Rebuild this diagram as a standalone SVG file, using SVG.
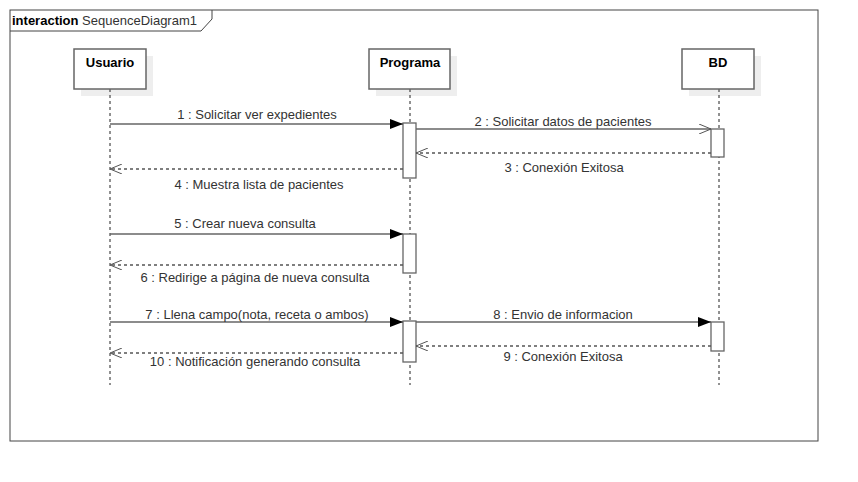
<svg xmlns="http://www.w3.org/2000/svg" width="858" height="482" viewBox="0 0 858 482">
<defs>
<marker id="filled" markerWidth="14" markerHeight="10" refX="13" refY="5" orient="auto" markerUnits="userSpaceOnUse"><path d="M0,0 L13,5 L0,10 Z" fill="#000"/></marker>
<marker id="open" markerWidth="14" markerHeight="10" refX="12" refY="5" orient="auto" markerUnits="userSpaceOnUse"><path d="M0,0 L12,5 L0,10" fill="none" stroke="#555" stroke-width="1"/></marker>
</defs>
<style>
text{font-family:"Liberation Sans",Arial,sans-serif;font-size:13px;fill:#333}
.b{font-weight:bold;fill:#000}
.box{fill:#fff;stroke:#666;stroke-width:1.5}
.sh{fill:#eee}
.life{stroke:#222;stroke-width:1;stroke-dasharray:3,3}
.act{fill:#fff;stroke:#666;stroke-width:1.3}
.msg{stroke:#666;stroke-width:1.5;fill:none}
.ret{stroke:#555;stroke-width:1.4;stroke-dasharray:3,3;fill:none}
</style>
<rect width="858" height="482" fill="#fff"/>
<g id="frame">
<rect x="10" y="10" width="808" height="431" fill="none" stroke="#444" stroke-width="1"/>
<path d="M10,31 L201,31 L212,19 L212,10" fill="none" stroke="#444" stroke-width="1"/>
<text x="12" y="25"><tspan class="b">interaction</tspan> SequenceDiagram1</text>
</g>
<g id="usuario">
<rect class="sh" x="81" y="56" width="72" height="40"/>
<line class="life" x1="110" y1="89" x2="110" y2="385"/>
<rect class="box" x="74" y="49" width="72" height="40"/>
<text class="b" x="110" y="67" text-anchor="middle">Usuario</text>
</g>
<g id="programa">
<rect class="sh" x="376" y="56" width="81" height="40"/>
<line class="life" x1="410" y1="89" x2="410" y2="385"/>
<rect class="box" x="369" y="49" width="81" height="40"/>
<text class="b" x="410" y="67" text-anchor="middle">Programa</text>
</g>
<g id="bd">
<rect class="sh" x="689" y="56" width="72" height="40"/>
<line class="life" x1="719" y1="89" x2="719" y2="385"/>
<rect class="box" x="682" y="49" width="72" height="40"/>
<text class="b" x="718" y="67" text-anchor="middle">BD</text>
</g>
<g id="activations">
<rect class="act" x="403" y="123" width="13" height="55"/>
<rect class="act" x="711" y="129" width="13" height="28"/>
<rect class="act" x="403" y="234" width="13" height="39"/>
<rect class="act" x="403" y="321" width="13" height="41"/>
<rect class="act" x="711" y="322" width="13" height="29"/>
</g>
<g id="connectors">
<line class="msg" x1="110" y1="124" x2="403" y2="124" marker-end="url(#filled)"/>
<line class="msg" x1="416" y1="129" x2="711" y2="129" marker-end="url(#open)"/>
<line class="ret" x1="711" y1="153" x2="416" y2="153" marker-end="url(#open)"/>
<line class="ret" x1="403" y1="169" x2="110" y2="169" marker-end="url(#open)"/>
<line class="msg" x1="110" y1="234" x2="403" y2="234" marker-end="url(#filled)"/>
<line class="ret" x1="403" y1="265" x2="110" y2="265" marker-end="url(#open)"/>
<line class="msg" x1="110" y1="322" x2="403" y2="322" marker-end="url(#filled)"/>
<line class="msg" x1="416" y1="322" x2="711" y2="322" marker-end="url(#filled)"/>
<line class="ret" x1="711" y1="346" x2="416" y2="346" marker-end="url(#open)"/>
<line class="ret" x1="403" y1="353" x2="110" y2="353" marker-end="url(#open)"/>
</g>
<g id="labels">
<text x="257" y="119" text-anchor="middle">1 : Solicitar ver expedientes</text>
<text x="563" y="126" text-anchor="middle">2 : Solicitar datos de pacientes</text>
<text x="564" y="172" text-anchor="middle">3 : Conexión Exitosa</text>
<text x="259" y="189" text-anchor="middle">4 : Muestra lista de pacientes</text>
<text x="245" y="228" text-anchor="middle">5 : Crear nueva consulta</text>
<text x="255" y="282" text-anchor="middle">6 : Redirige a página de nueva consulta</text>
<text x="257" y="319" text-anchor="middle">7 : Llena campo(nota, receta o ambos)</text>
<text x="563" y="319" text-anchor="middle">8 : Envio de informacion</text>
<text x="563" y="361" text-anchor="middle">9 : Conexión Exitosa</text>
<text x="255" y="366" text-anchor="middle">10 : Notificación generando consulta</text>
</g>
</svg>
